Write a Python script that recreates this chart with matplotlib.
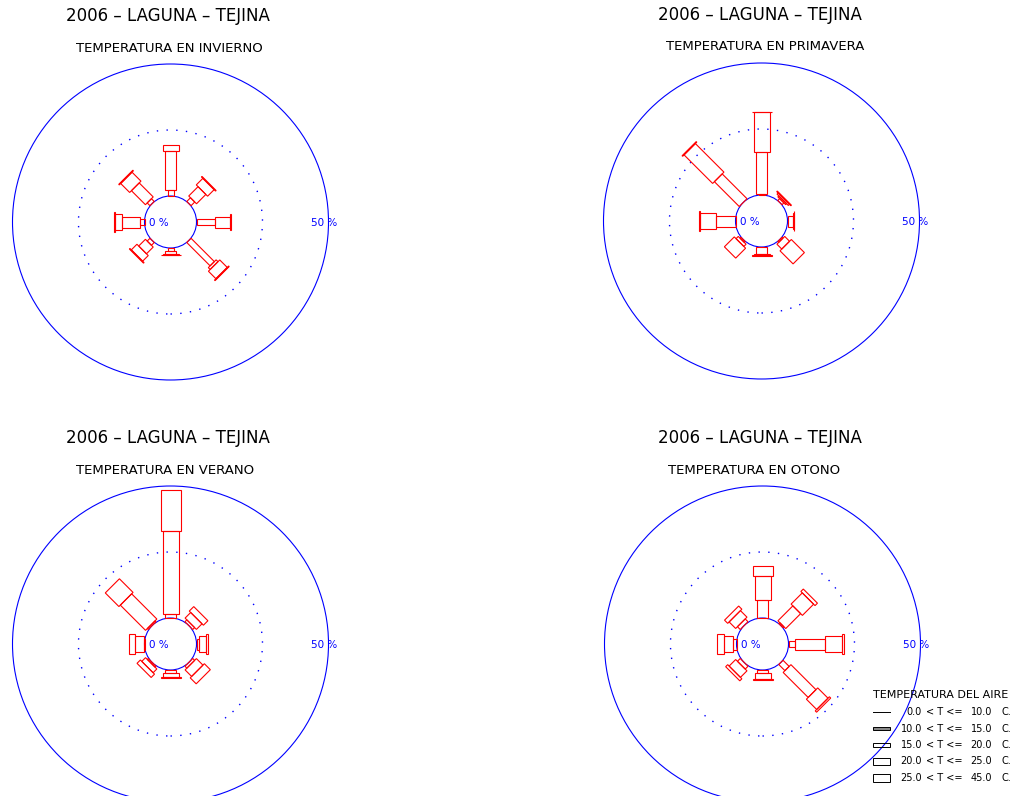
import numpy as np
import matplotlib
matplotlib.use("Agg")
import matplotlib.pyplot as plt
from matplotlib.patches import Circle, Polygon, Rectangle

# Direcciones del viento: N, NE, E, SE, S, SW, W, NW (grados desde el norte)
direcciones = [0, 45, 90, 135, 180, 225, 270, 315]

# Clases de temperatura
clase_min = ["0.0", "10.0", "15.0", "20.0", "25.0"]
clase_max = ["10.0", "15.0", "20.0", "25.0", "45.0"]

# Porcentaje de casos: fila = clase de temperatura, columna = direccion
invierno = [
    [0, 0, 0, 0, 0, 0, 0, 0],
    [2.1, 2.0, 6.9, 12.5, 1.0, 1.5, 1.8, 1.5],
    [14.8, 5.0, 5.7, 1.0, 1.2, 3.6, 6.9, 7.5],
    [2.5, 3.5, 0.4, 4.0, 0.3, 3.0, 2.5, 4.8],
    [0, 0.3, 0, 0.3, 0.1, 0.3, 0.2, 0.3],
]
primavera = [
    [0, 0, 0, 0, 0, 0, 0, 0],
    [0.3, 1.0, 0, 0.5, 0, 0.5, 0, 0],
    [16.0, 0.5, 2.0, 2.6, 2.5, 1.2, 7.2, 13.3],
    [15.0, 0.6, 0.3, 7.0, 0.5, 5.3, 6.3, 15.3],
    [0.3, 0.3, 0.2, 0, 0.3, 0, 0.3, 0.3],
]
verano = [
    [0, 0, 0, 0, 0, 0, 0, 0],
    [0, 0, 0, 0, 0, 0, 0, 0],
    [1.4, 1.0, 1.0, 1.0, 1.0, 0.5, 0.3, 0.5],
    [31.7, 3.0, 2.5, 3.5, 1.5, 2.0, 3.2, 13.5],
    [15.2, 2.4, 1.0, 3.2, 0.6, 1.8, 2.2, 7.3],
]
otono = [
    [0, 0, 0, 0, 0, 0, 0, 0],
    [0, 0.5, 2.4, 3.3, 0, 0, 0, 0],
    [6.8, 8.0, 11.4, 13.4, 1.3, 1.5, 1.3, 1.5],
    [9.2, 6.0, 6.3, 5.5, 2.0, 3.5, 3.4, 3.5],
    [3.8, 1.3, 0.8, 0.7, 0.5, 1.1, 2.6, 1.7],
]

titulo = "2006 \u2013 LAGUNA \u2013 TEJINA"
paneles = [
    ("TEMPERATURA EN INVIERNO", invierno, (170.5, 222)),
    ("TEMPERATURA EN PRIMAVERA", primavera, (761.5, 221)),
    ("TEMPERATURA EN VERANO", verano, (170.5, 644)),
    ("TEMPERATURA EN OTONO", otono, (762.5, 644)),
]

W, H = 1016, 796
PX = 2.64            # pixeles por cada 1 %
R0 = 26 / PX         # radio del circulo de 0 %
MEDIO = 170          # medio lado de cada panel en px
ANCHOS = [0, 6, 11, 16, 20]   # ancho de barra por clase, px

fig = plt.figure(figsize=(W / 100, H / 100), dpi=100)

for subtitulo, datos, (cx, cy) in paneles:
    ax = fig.add_axes([(cx - MEDIO) / W, (H - cy - MEDIO) / H, 2 * MEDIO / W, 2 * MEDIO / H])
    lim = MEDIO / PX
    ax.set_xlim(-lim, lim)
    ax.set_ylim(-lim, lim)
    ax.set_aspect("equal")
    ax.axis("off")

    ax.add_patch(Circle((0, 0), R0, fill=False, ec="blue", lw=0.8))
    ax.add_patch(Circle((0, 0), R0 + 25, fill=False, ec="blue", lw=1.0, ls=(0, (1, 6))))
    ax.add_patch(Circle((0, 0), R0 + 50, fill=False, ec="blue", lw=0.8, clip_on=False))
    ax.text(-4.6, -0.4, "0 %", color="blue", fontsize=7.5, ha="center", va="center")
    ax.text(R0 + 50 - 1.5, -0.4, "50 %", color="blue", fontsize=7.5, ha="center", va="center")

    ax.text(-104 / PX, 206 / PX, titulo, fontsize=12, ha="left", va="center")
    ax.text(-95 / PX, 174 / PX, subtitulo, fontsize=9.5, ha="left", va="center")

    # barras apiladas por direccion
    for j, ang in enumerate(direcciones):
        a = np.radians(ang)
        u = np.array([np.sin(a), np.cos(a)])
        v = np.array([np.cos(a), -np.sin(a)])
        r = R0
        for k in range(len(clase_min)):
            p = datos[k][j]
            if p <= 0:
                continue
            r2 = r + p
            w = ANCHOS[k] / PX / 2
            if w == 0:
                ax.plot([r * u[0], r2 * u[0]], [r * u[1], r2 * u[1]], color="red", lw=0.8)
            else:
                pts = [r * u + w * v, r2 * u + w * v, r2 * u - w * v, r * u - w * v]
                ax.add_patch(Polygon(pts, closed=True, fill=False, ec="red", lw=0.8))
            r = r2

# Leyenda
lax = fig.add_axes([860 / W, 0, 156 / W, 116 / H])
lax.set_xlim(0, 156)
lax.set_ylim(116, 0)
lax.axis("off")
lax.text(13, 15, "TEMPERATURA DEL AIRE", fontsize=8, ha="left", va="center")
alturas = [0, 2.5, 4.5, 6.5, 8]
for i in range(len(clase_min)):
    y = 32 + 16.5 * i
    if alturas[i] == 0:
        lax.plot([13, 30], [y, y], color="black", lw=0.7)
    else:
        fc = "#888888" if i == 1 else "none"
        lax.add_patch(Rectangle((13, y - alturas[i] / 2), 17, alturas[i], fc=fc, ec="black", lw=0.7))
    lax.text(62, y, clase_min[i], fontsize=7, ha="right", va="center")
    lax.text(66, y, "< T <=", fontsize=7, ha="left", va="center")
    lax.text(132, y, clase_max[i], fontsize=7, ha="right", va="center")
    lax.text(142, y, "C.", fontsize=7, ha="left", va="center")

fig.savefig("out.png", dpi=100)
